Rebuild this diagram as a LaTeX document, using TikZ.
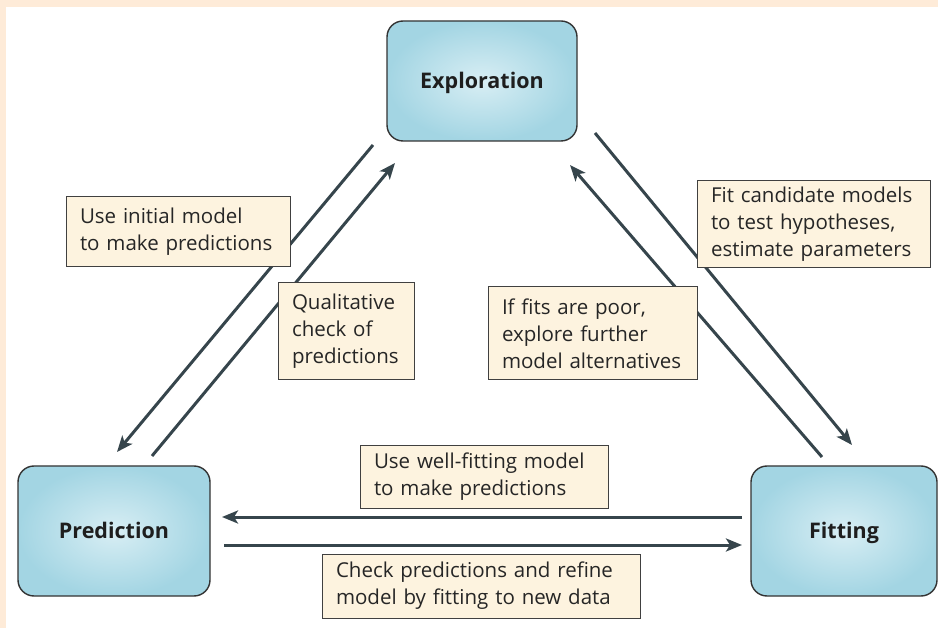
\documentclass[tikz,border=0pt]{standalone}
\usepackage{fontspec}
\setmainfont{Open Sans}
\usetikzlibrary{arrows.meta}
\definecolor{peach}{HTML}{FEEBD8}
\definecolor{boxin}{HTML}{D8EEF4}
\definecolor{boxout}{HTML}{A3D5E3}
\definecolor{lblfill}{HTML}{FDF3DF}
\definecolor{arrowc}{HTML}{36454C}
\definecolor{txt}{HTML}{1E1E1E}
\newcommand{\lline}[1]{\mbox{#1}}
\tikzset{
  stage/.style={draw=black!80, line width=1.4pt, rounded corners=16pt,
    inner color=boxin, outer color=boxout, minimum width=#1, minimum height=130pt,
    font=\fontsize{21.5}{25}\selectfont\bfseries, text=txt, text height=15pt, text depth=0pt},
  lbl/.style={draw=black!75, line width=1pt, fill=lblfill, align=left,
    font=\fontsize{20.5}{27}\selectfont, text=black!85, inner xsep=14pt, inner ysep=6pt, anchor=center},
  flow/.style={draw=arrowc, line width=3pt, -{Stealth[length=16pt,width=13pt,inset=4pt]}},
}
\begin{document}
\begin{tikzpicture}[x=1pt,y=-1pt]
\useasboundingbox (0,0) rectangle (938,628);
\fill[peach] (0,0) rectangle (938,7);
\fill[peach] (0,0) rectangle (6,628);

\node[stage=190pt, minimum height=120pt] (expl) at (482,81) {Exploration};
\node[stage=192pt] (pred) at (114,531) {Prediction};
\node[stage=186pt] (fit) at (844,531) {Fitting};

\coordinate (a1s) at (373,145); \coordinate (a1e) at (117,452);
\coordinate (a2s) at (152,456); \coordinate (a2e) at (395,163);
\coordinate (a3s) at (595,133); \coordinate (a3e) at (852,445);
\coordinate (a4s) at (822,457); \coordinate (a4e) at (570,165);
\coordinate (a5s) at (742,517); \coordinate (a5e) at (222,517);
\coordinate (a6s) at (224,545); \coordinate (a6e) at (742,545);

\draw[flow] (a1s) -- (a1e);
\draw[flow] (a2s) -- (a2e);
\draw[flow] (a3s) -- (a3e);
\draw[flow] (a4s) -- (a4e);
\draw[flow] (a5s) -- (a5e);
\draw[flow] (a6s) -- (a6e);

\node[lbl, text width=196pt, minimum height=70pt] (l1) at (178,232) {\lline{Use initial model}\\\lline{to make predictions}};
\node[lbl, text width=108pt, minimum height=97pt] (l2) at (346,331.5) {\lline{Qualitative}\\\lline{check of}\\\lline{predictions}};
\node[lbl, text width=181pt, minimum height=93pt] (l3) at (592.5,333.5) {\lline{If fits are poor,}\\\lline{explore further}\\\lline{model alternatives}};
\node[lbl, text width=205pt, minimum height=84pt] (l4) at (813.5,224) {\lline{Fit candidate models}\\\lline{to test hypotheses,}\\\lline{estimate parameters}};
\node[lbl, text width=220pt, minimum height=62pt] (l5) at (484,477) {\lline{Use well-fitting model}\\\lline{to make predictions}};
\node[lbl, text width=290pt, minimum height=64pt] (l6) at (481,586) {\lline{Check predictions and refine}\\\lline{model by fitting to new data}};
\end{tikzpicture}
\end{document}
